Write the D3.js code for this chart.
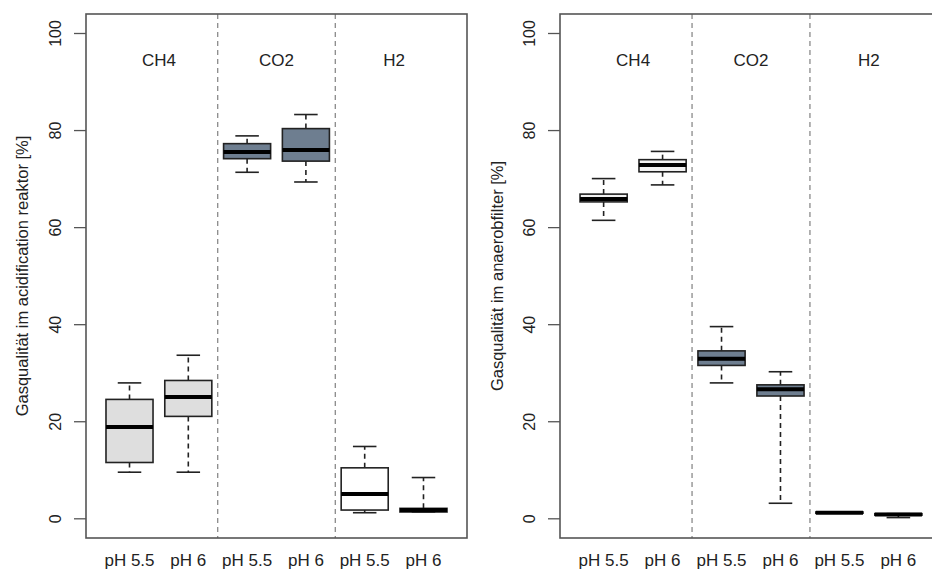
<!DOCTYPE html>
<html>
<head>
<meta charset="utf-8">
<script src="https://cdn.jsdelivr.net/npm/d3@7"></script>
<style>
  body { margin: 0; background: #fff; }
  svg text { font-family: "Liberation Sans", Arial, sans-serif; fill: #222; }
</style>
</head>
<body>
<div id="chart"></div>
<script>
// chart size
let w = 932
let h = 570

// groups and boxes (one box per gas / pH)
let gases = ["CH4", "CO2", "H2"];
let phLabels = ["pH 5.5", "pH 6", "pH 5.5", "pH 6", "pH 5.5", "pH 6"];
let yTicks = [0, 20, 40, 60, 80, 100];

// acidification reaktor: [low whisker, Q1, median, Q3, high whisker]
let acidStats = [
  [9.5, 11.5, 18.8, 24.5, 27.9],
  [9.5, 21.0, 25.0, 28.4, 33.6],
  [71.3, 74.1, 75.5, 77.2, 78.8],
  [69.3, 73.6, 75.9, 80.3, 83.2],
  [1.15, 1.7, 5.0, 10.4, 14.8],
  [1.3, 1.3, 1.7, 2.05, 8.4]
];
// anaerobfilter
let anaStats = [
  [61.4, 65.2, 65.8, 66.8, 70.0],
  [68.7, 71.4, 72.8, 73.9, 75.6],
  [27.9, 31.5, 32.9, 34.5, 39.5],
  [3.1, 25.2, 26.6, 27.5, 30.2],
  [1.05, 1.05, 1.15, 1.3, 1.3],
  [0.15, 0.65, 0.8, 0.95, 0.95]
];

let acidFills = ["#dedede", "#dedede", "#6e7e90", "#6e7e90", "#ffffff", "#ffffff"];
let anaFills = ["#f2f2f2", "#f2f2f2", "#6e7e90", "#6e7e90", "#ffffff", "#ffffff"];

let svg = d3.select("#chart")
            .append("svg")
            .attr("width", w)
            .attr("height", h);

function drawPanel(left, right, stats, fills, title, titleX) {
  let top = 14, bottom = 538;
  let x = d3.scaleLinear().domain([0.26, 6.74]).range([left, right]);
  let y = d3.scaleLinear().domain([0, 100]).range([518.3, 33]);
  let g = svg.append("g");

  // dashed separators between gases
  [2.5, 4.5].forEach(s => {
    g.append("line")
      .attr("x1", x(s)).attr("x2", x(s))
      .attr("y1", top).attr("y2", bottom)
      .attr("stroke", "#8a8a8a")
      .attr("stroke-width", 1.3)
      .attr("stroke-dasharray", "5,4");
  });

  // gas names
  gases.forEach((gName, i) => {
    g.append("text")
      .attr("x", x(1.5 + 2 * i))
      .attr("y", 66)
      .attr("text-anchor", "middle")
      .style("font-size", "17px")
      .text(gName);
  });

  let bw = x(0.8) - x(0);
  stats.forEach((s, i) => {
    let cx = x(i + 1);
    let b = g.append("g");
    // whiskers (dashed)
    b.append("line")
      .attr("x1", cx).attr("x2", cx)
      .attr("y1", y(s[3])).attr("y2", y(s[4]))
      .attr("stroke", "#222").attr("stroke-width", 1.6)
      .attr("stroke-dasharray", "5,4");
    b.append("line")
      .attr("x1", cx).attr("x2", cx)
      .attr("y1", y(s[1])).attr("y2", y(s[0]))
      .attr("stroke", "#222").attr("stroke-width", 1.6)
      .attr("stroke-dasharray", "5,4");
    // caps
    [s[0], s[4]].forEach(v => {
      b.append("line")
        .attr("x1", cx - bw / 4).attr("x2", cx + bw / 4)
        .attr("y1", y(v)).attr("y2", y(v))
        .attr("stroke", "#222").attr("stroke-width", 1.6);
    });
    // box
    b.append("rect")
      .attr("x", cx - bw / 2)
      .attr("y", y(s[3]))
      .attr("width", bw)
      .attr("height", Math.max(y(s[1]) - y(s[3]), 0.5))
      .attr("fill", fills[i])
      .attr("stroke", "#222")
      .attr("stroke-width", 1.6);
    // median
    b.append("line")
      .attr("x1", cx - bw / 2).attr("x2", cx + bw / 2)
      .attr("y1", y(s[2])).attr("y2", y(s[2]))
      .attr("stroke", "#000").attr("stroke-width", 4);

    // x label
    g.append("text")
      .attr("x", cx)
      .attr("y", 566)
      .attr("text-anchor", "middle")
      .style("font-size", "17px")
      .text(phLabels[i]);
  });

  // frame
  g.append("rect")
    .attr("x", left).attr("y", top)
    .attr("width", right - left).attr("height", bottom - top)
    .attr("fill", "none")
    .attr("stroke", "#555")
    .attr("stroke-width", 1.6);

  // y axis
  let axis = g.append("g")
    .attr("transform", "translate(" + left + ",0)")
    .call(d3.axisLeft(y).tickValues(yTicks).tickSize(12).tickPadding(0).tickFormat(d3.format("d")));
  axis.select(".domain").remove();
  axis.selectAll(".tick line").attr("stroke", "#555").attr("stroke-width", 1.3);
  axis.selectAll(".tick text")
    .attr("x", null).attr("dy", null)
    .attr("transform", "translate(-31,0) rotate(-90)")
    .attr("text-anchor", "middle")
    .attr("dy", "0.35em")
    .style("font-size", "16px")
    .style("font-family", "Liberation Sans, Arial, sans-serif")
    .attr("fill", "#222");

  // y title
  g.append("text")
    .attr("transform", "translate(" + titleX + "," + ((top + bottom) / 2) + ") rotate(-90)")
    .attr("text-anchor", "middle")
    .attr("dy", "0.35em")
    .style("font-size", "16.5px")
    .text(title);
}

drawPanel(86, 467, acidStats, acidFills, "Gasqualität im acidification reaktor [%]", 22);
drawPanel(560, 942, anaStats, anaFills, "Gasqualität im anaerobfilter [%]", 497);
</script>
</body>
</html>
